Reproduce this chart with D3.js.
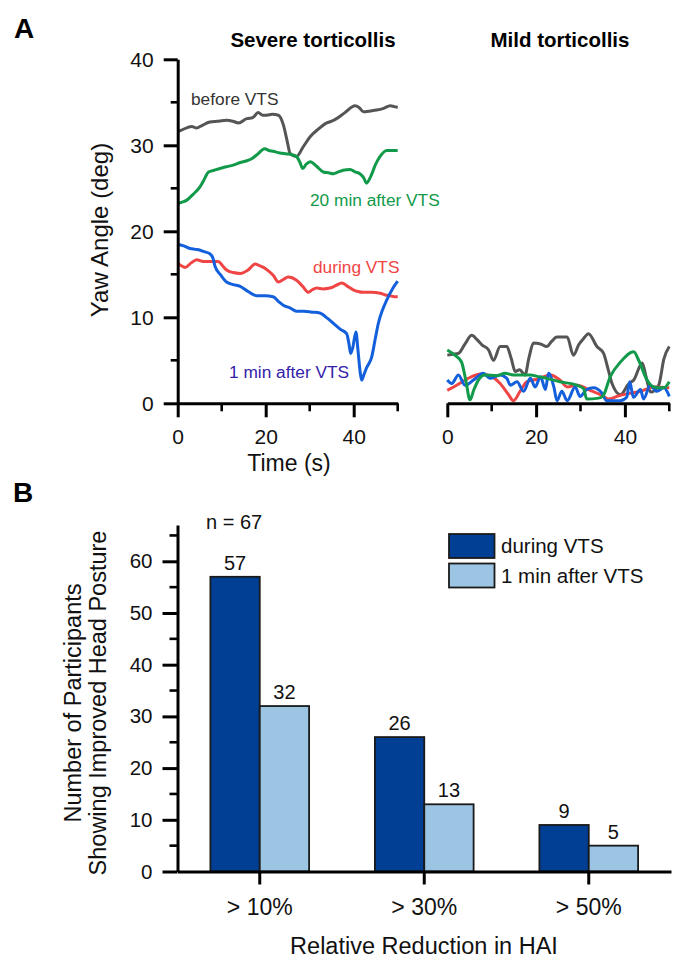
<!DOCTYPE html>
<html>
<head>
<meta charset="utf-8">
<script src="https://cdn.jsdelivr.net/npm/d3@7"></script>
<style>
  body { margin: 0; background: #fff; }
  svg { display: block; }
  text { font-family: Arial, "Liberation Sans", Helvetica, sans-serif; }
</style>
</head>
<body>
<svg id="chart" width="676" height="958"></svg>
<script>
// ---------------- DATA ----------------
// Panel A, severe torticollis: [time (s), yaw angle (deg)]
const severeBefore = [[0,31.6],[1,31.8],[3.2,32.2],[4.3,32.0],[5.5,32.3],[7.3,32.7],[9,32.8],[11.1,32.9],[12.5,32.8],[13.8,32.6],[15.7,33.1],[17,33.2],[18.3,33.8],[19.3,33.5],[20.2,33.5],[21.5,33.6],[22.9,33.5],[24.0,32.4],[25.0,30.2],[25.5,29.1],[26.3,28.8],[27.0,28.7],[28.5,29.8],[30.1,31.0],[32,31.9],[33.9,32.6],[35,32.8],[36.1,33.1],[38,33.8],[40.3,34.6],[41.2,34.4],[42.2,33.9],[43.8,34.0],[45.2,34.1],[46.8,34.3],[48.3,34.6],[49.2,34.5],[50,34.4]];
const severeAfter20 = [[0,23.2],[1,23.4],[2,23.6],[3.5,24.3],[5.1,25.2],[6,26.0],[7,26.9],[8.3,27.1],[9.6,27.3],[11,27.5],[12.6,27.7],[14.2,28.0],[15.7,28.2],[17,28.5],[18,28.9],[19.8,29.6],[20.7,29.4],[21.7,29.3],[23.2,29.1],[24.8,29.0],[26,28.9],[27,28.7],[27.8,28.0],[28.4,27.3],[29.2,27.8],[30.1,28.1],[31.5,27.6],[33.1,26.9],[34.3,26.8],[35.4,26.7],[36.5,26.9],[37.6,27.1],[39.2,27.2],[40.3,26.9],[41.4,26.7],[42.3,26.2],[42.9,25.6],[43.8,26.3],[45,27.8],[46,28.7],[47.5,29.4],[48.8,29.4],[50,29.4]];
const severeDuring = [[0,16.3],[0.8,16.0],[1.7,15.8],[3,16.3],[4.3,16.7],[5.8,16.5],[7.3,16.5],[9.2,16.5],[10.2,16.0],[11.1,15.5],[12.6,15.2],[14.2,15.1],[16,15.5],[17.6,16.2],[18.6,16.0],[19.5,15.8],[20.6,15.4],[21.7,14.9],[22.9,14.1],[24,14.4],[25.1,14.7],[26,14.6],[27,14.3],[28.4,13.6],[29.7,12.9],[30.6,13.2],[31.6,13.4],[33,13.3],[34.6,13.4],[36,13.7],[37.3,14.0],[38.6,13.6],[39.9,13.2],[41,13.0],[42.2,12.9],[44,12.9],[46,12.8],[47.2,12.6],[48.3,12.5],[49.2,12.4],[50,12.4]];
const severeAfter1 = [[0,18.5],[1.4,18.3],[2.8,18.0],[4,17.9],[5.1,17.8],[6.2,17.6],[7.3,17.4],[8,16.9],[8.5,15.9],[9.8,14.9],[11.1,14.1],[12.6,13.8],[14.2,13.6],[16,13.0],[18,12.5],[19.8,12.5],[21.7,12.4],[23,11.8],[24,11.4],[25.5,11.1],[27,10.7],[28.7,10.7],[30.5,10.6],[32.3,10.5],[34,9.9],[35.4,9.3],[37,8.6],[38.4,8.1],[38.9,7.0],[39.3,5.8],[39.8,6.5],[40.5,8.3],[41,6.0],[41.5,3.5],[41.8,2.7],[42.3,3.3],[42.9,4.1],[44.1,5.4],[44.9,7.5],[45.6,9.3],[46.5,10.8],[47.5,12.0],[48.8,13.3],[50,14.2]];

// Panel A, mild torticollis
const mildBefore = [[0,5.6],[1.3,5.7],[2.5,5.8],[4,6.9],[5.5,7.9],[6.7,7.4],[7.8,6.8],[9.3,6.2],[10.4,5.0],[11.9,6.6],[13.4,6.6],[14.4,5.2],[15.3,3.7],[16.3,3.9],[17.5,3.3],[18.4,5.3],[19.4,7.0],[21,6.9],[22.4,6.6],[23.5,7.2],[24.7,7.7],[27,7.7],[28.4,5.6],[29.6,6.8],[30.8,7.6],[31.8,8.1],[33.7,6.6],[35.2,5.8],[36.2,4.0],[37.1,2.3],[39,1.0],[40.9,2.3],[42,2.7],[43.9,4.7],[44.8,3.0],[45.8,1.3],[47.6,2.1],[48.8,5.2],[50,6.6]];
const mildAfter20 = [[0,6.2],[1.7,5.6],[3.2,4.8],[4.2,2.6],[5.1,0.4],[6,1.6],[7,2.7],[8.5,3.3],[11.1,3.2],[13,3.5],[14.9,3.3],[18.7,3.3],[20.5,3.1],[22.4,2.9],[25.4,2.5],[29.2,2.1],[30.7,1.7],[31.4,0.5],[34.1,0.6],[35,0.8],[36.7,3.1],[39,4.8],[42,6.0],[43.1,5.0],[45,2.7],[46.5,1.9],[48.8,1.8],[50,2.5]];
const mildDuring = [[0,1.5],[2.1,2.1],[5.1,3.0],[7.4,3.4],[9.6,3.2],[11.9,2.3],[13.8,1.0],[14.9,0.3],[16.4,1.4],[17.9,2.5],[20.2,2.8],[23.2,3.3],[25.4,2.7],[27,1.9],[29.2,2.1],[32.2,1.5],[34.5,1.0],[36.3,0.5],[38.2,0.8],[40.4,1.1],[43.5,1.4],[46.5,1.9],[50,1.8]];
const mildAfter1 = [[0,2.7],[1,2.3],[2.5,3.3],[4,2.1],[5.9,2.7],[8.1,3.5],[9.6,2.9],[11.9,3.3],[13.4,2.9],[14.2,2.1],[15.7,2.5],[17.2,1.4],[18.7,2.9],[19.8,1.9],[21,3.1],[22.1,1.6],[22.8,3.5],[24,1.9],[24.7,0.3],[25.8,1.4],[27,0.3],[28.8,1.9],[29.9,0.8],[31.4,1.6],[32.9,1.8],[34.8,1.2],[35.9,0.3],[38.9,0.3],[40.4,0.7],[41.1,2.5],[41.9,0.7],[43.5,1.6],[44.2,0.5],[45.7,2.1],[47.2,1.4],[48.8,1.8],[50,0.8]];

const timeTicks = [0, 20, 40];
const timeMinorTicks = [10, 30, 50];
const yawTicks = [0, 10, 20, 30, 40];
const yawMinorTicks = [5, 15, 25, 35];

// Panel B
const categories = ["> 10%", "> 30%", "> 50%"];
const duringVTS = [57, 26, 9];
const after1minVTS = [32, 13, 5];
const countTicks = [0, 10, 20, 30, 40, 50, 60];
const countMinorTicks = [5, 15, 25, 35, 45, 55, 65];
const seriesNames = ["during VTS", "1 min after VTS"];

// ---------------- STYLE ----------------
const C = { gray: "#555555", green: "#119a4a", red: "#f04545", blue: "#1460dc", blueText: "#3322aa",
            dark: "#003f93", light: "#9cc5e3" };

const svg = d3.select("#chart");

function minorTicks(g, scale, vals, len, dir) {
  vals.forEach(v => {
    if (dir === "left") g.append("line").attr("x1", 0).attr("x2", -len).attr("y1", scale(v)).attr("y2", scale(v));
    else g.append("line").attr("y1", 0).attr("y2", len).attr("x1", scale(v)).attr("x2", scale(v));
  });
  g.selectAll("line").attr("stroke", "#000").attr("stroke-width", 2.6);
}

function styleAxis(g, fs) {
  g.select(".domain").attr("stroke", "#000").attr("stroke-width", 3);
  g.selectAll(".tick line").attr("stroke", "#000").attr("stroke-width", 3);
  g.selectAll(".tick text").attr("fill", "#111").style("font-size", fs + "px")
    .style("font-family", "Arial, 'Liberation Sans', sans-serif");
}

const txt = (x, y, s, opts = {}) => svg.append("text").attr("x", x).attr("y", y).text(s)
  .attr("fill", opts.fill || "#000").attr("text-anchor", opts.anchor || "start")
  .style("font-size", (opts.size || 15) + "px").style("font-weight", opts.weight || "normal")
  .attr("transform", opts.rotate ? `rotate(-90,${x},${y})` : null);

// ---------- Panel A ----------
const yA = d3.scaleLinear().domain([0, 40]).range([403.3, 59.3]);
const xSev = d3.scaleLinear().domain([0, 50]).range([177.7, 397.7]);
const xMild = d3.scaleLinear().domain([0, 50]).range([447.3, 669.3]);

const lineSev = d3.line().x(d => xSev(d[0])).y(d => yA(d[1])).curve(d3.curveMonotoneX);
const lineMild = d3.line().x(d => xMild(d[0])).y(d => yA(d[1])).curve(d3.curveMonotoneX);

const sevSeries = [[severeBefore, C.gray], [severeAfter20, C.green], [severeDuring, C.red], [severeAfter1, C.blue]];
sevSeries.forEach(([d, c]) => svg.append("path").attr("d", lineSev(d)).attr("fill", "none").attr("stroke", c).attr("stroke-width", 3).attr("stroke-linejoin", "round"));
const mildSeries = [[mildBefore, C.gray], [mildDuring, C.red], [mildAfter1, C.blue], [mildAfter20, C.green]];
mildSeries.forEach(([d, c]) => svg.append("path").attr("d", lineMild(d)).attr("fill", "none").attr("stroke", c).attr("stroke-width", 3).attr("stroke-linejoin", "round"));

const gyA = svg.append("g").attr("transform", `translate(${xSev(0)},0)`)
  .call(d3.axisLeft(yA).tickValues(yawTicks).tickSize(14).tickPadding(10).tickSizeOuter(0));
styleAxis(gyA, 21);
minorTicks(svg.append("g").attr("transform", `translate(${xSev(0)},0)`), yA, yawMinorTicks, 7, "left");

[xSev, xMild].forEach(xs => {
  const gx = svg.append("g").attr("transform", `translate(0,${yA(0)})`)
    .call(d3.axisBottom(xs).tickValues(timeTicks).tickSize(14).tickPadding(12).tickSizeOuter(0));
  styleAxis(gx, 21);
  gx.selectAll(".tick text").attr("dy", "0.71em");
  minorTicks(svg.append("g").attr("transform", `translate(0,${yA(0)})`), xs, timeMinorTicks, 8, "down");
});

txt(14, 38, "A", { size: 28, weight: "bold" });
txt(313, 47, "Severe torticollis", { size: 20.5, weight: "bold", anchor: "middle" });
txt(560, 47, "Mild torticollis", { size: 20.5, weight: "bold", anchor: "middle" });
txt(191, 104.5, "before VTS", { size: 17.3, fill: "#333" });
txt(310, 206, "20 min after VTS", { size: 17.3, fill: C.green });
txt(313, 273, "during VTS", { size: 17.3, fill: C.red });
txt(229, 378, "1 min after VTS", { size: 17.3, fill: C.blueText });
txt(107.5, 230, "Yaw Angle (deg)", { size: 24, anchor: "middle", rotate: true, fill: "#111" });
txt(289, 471, "Time (s)", { size: 23, anchor: "middle", fill: "#111" });

// ---------- Panel B ----------
const yB = d3.scaleLinear().domain([0, 67]).range([871.5, 525.1]);
const xB = d3.scaleBand().domain(categories).range([177.5, 671]).padding(0);
const barW = xB.bandwidth() * 0.3;

const bars = svg.append("g");
categories.forEach((cat, i) => {
  const cx = xB(cat) + xB.bandwidth() / 2;
  [[duringVTS[i], C.dark, cx - barW], [after1minVTS[i], C.light, cx]].forEach(([v, col, x0]) => {
    bars.append("rect").attr("x", x0).attr("y", yB(v)).attr("width", barW).attr("height", yB(0) - yB(v))
      .attr("fill", col).attr("stroke", "#1a1a1a").attr("stroke-width", 1.8);
    bars.append("text").attr("x", x0 + barW / 2).attr("y", yB(v) - 7)
      .attr("text-anchor", "middle").style("font-size", "20px").attr("fill", "#111").text(v);
  });
});

const gyB = svg.append("g").attr("transform", `translate(177.5,0)`)
  .call(d3.axisLeft(yB).tickValues(countTicks).tickSize(15).tickPadding(10).tickSizeOuter(0));
styleAxis(gyB, 20.5);
minorTicks(svg.append("g").attr("transform", `translate(177.5,0)`), yB, countMinorTicks, 8, "left");

const gxB = svg.append("g").attr("transform", `translate(0,${yB(0)})`)
  .call(d3.axisBottom(xB).tickSize(13).tickPadding(14).tickSizeOuter(0));
styleAxis(gxB, 23);
gxB.selectAll(".tick text").attr("dy", "0.71em");

txt(13, 502, "B", { size: 28, weight: "bold" });
txt(206, 529, "n = 67", { size: 20, fill: "#111" });

const legend = svg.append("g");
seriesNames.forEach((s, i) => {
  const y0 = 534 + i * 29.5;
  legend.append("rect").attr("x", 449).attr("y", y0).attr("width", 45.5).attr("height", 24)
    .attr("fill", i === 0 ? C.dark : C.light).attr("stroke", "#1a1a1a").attr("stroke-width", 1.8);
  legend.append("text").attr("x", 501).attr("y", y0 + 19).text(s)
    .style("font-size", "20.5px").attr("fill", "#111");
});

txt(81, 703, "Number of Participants", { size: 23.5, anchor: "middle", rotate: true, fill: "#111" });
txt(106, 703, "Showing Improved Head Posture", { size: 23.5, anchor: "middle", rotate: true, fill: "#111" });
txt(424, 954, "Relative Reduction in HAI", { size: 23.5, anchor: "middle", fill: "#111" });
</script>
</body>
</html>
